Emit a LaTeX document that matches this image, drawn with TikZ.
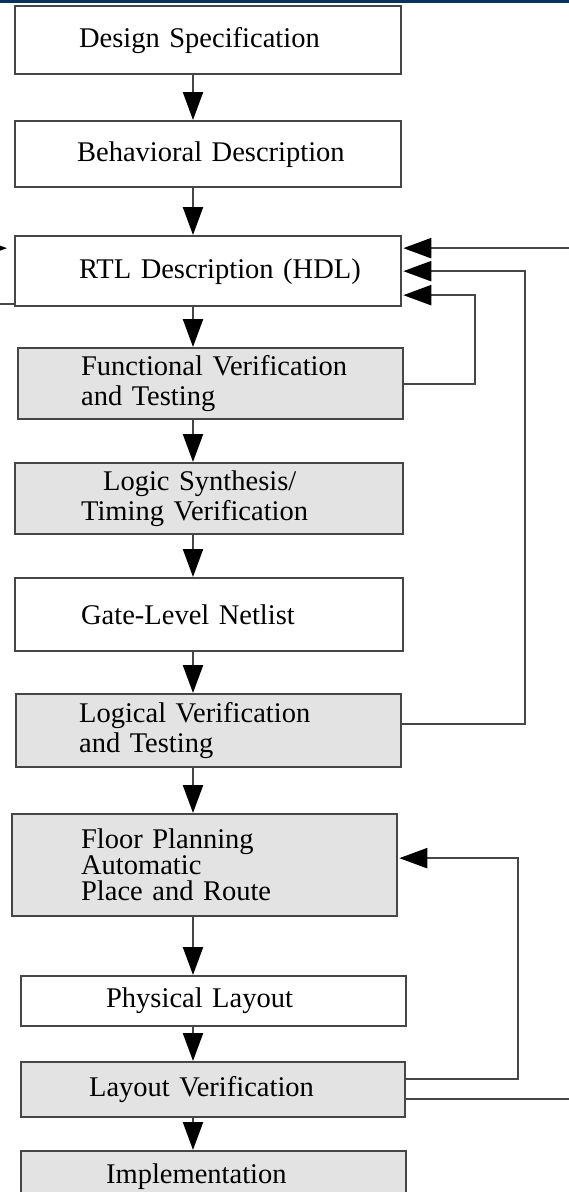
\documentclass[tikz,border=0pt]{standalone}
\usepackage{fontspec}
\setmainfont{Liberation Serif}
\usepackage{xcolor}
\usepackage{tikz}
\usetikzlibrary{arrows.meta, calc}
\definecolor{edgegray}{RGB}{70, 70, 70}
\definecolor{stagegray}{RGB}{227, 227, 227}
\definecolor{topnavy}{RGB}{6, 50, 92}

\begin{document}
\begin{tikzpicture}[x=1pt, y=-1pt,
        stage/.style={draw=edgegray, line width=2.3pt, fill=white, anchor=north west, inner xsep=0pt, inner ysep=0pt, align=left, font=\fontsize{28.5}{30}\selectfont},
        stageshaded/.style={stage, fill=stagegray},
        indent/.style={execute at begin node={\leftskip=#1\relax}},
        flow/.style={edgegray, line width=2.3pt, -{Triangle[length=28pt, width=20pt, color=black]}},
        feedback/.style={flow, shorten >=1pt},
        wire/.style={edgegray, line width=2.3pt}]
        \useasboundingbox (0,0) rectangle (569,1192);
        \clip (0,0) rectangle (569,1192);
        \fill[topnavy] (0,0) rectangle (569,2.5);

        % Flow stages
        \node[stage, text width=386pt, minimum height=68pt, indent=64pt] (spec) at (14,5) {Design Specification};
        \node[stage, text width=386pt, minimum height=66pt, indent=62pt] (behave) at (14,120) {Behavioral Description};
        \node[stage, text width=386pt, minimum height=70pt, indent=64pt] (rtl) at (14,235) {RTL Description (HDL)};
        \node[stageshaded, text width=385pt, minimum height=71pt, indent=63pt] (funcver) at (17,347) {Functional Verification\\and Testing};
        \node[stageshaded, text width=388pt, minimum height=71pt, indent=66pt] (synth) at (14,462) {\hspace*{22pt}Logic Synthesis/\\Timing Verification};
        \node[stage, text width=388pt, minimum height=73pt, indent=66pt] (netlist) at (14,577) {Gate-Level Netlist};
        \node[stageshaded, text width=385pt, minimum height=73pt, indent=63pt] (logicver) at (15,693) {Logical Verification\\and Testing};
        \node[stageshaded, text width=385pt, minimum height=102pt, indent=69pt, font=\fontsize{28.5}{26}\selectfont] (floorplan) at (11,813) {Floor Planning\\Automatic\\Place and Route};
        \node[stage, text width=385pt, minimum height=50pt, indent=85pt] (layout) at (20,975) {Physical Layout};
        \node[stageshaded, text width=384pt, minimum height=55pt, indent=68pt] (layoutver) at (20,1061) {Layout Verification};
        \node[stageshaded, text width=385pt, minimum height=50pt, indent=85pt] (impl) at (20,1150) {Implementation};

        % Helper coordinates
        \coordinate (spine) at (193,0);
        \coordinate (loopfunc) at (475,0);
        \coordinate (looplogic) at (525,0);
        \coordinate (looplayout) at (518,0);
        \coordinate (rightedge) at (575,0);
        \coordinate (leftedge) at (-35,0);
        \coordinate (rtlinA) at ([yshift=23pt]rtl.east);
        \coordinate (rtlinB) at (rtl.east);
        \coordinate (rtlinC) at ([yshift=-24pt]rtl.east);
        \coordinate (rtlleftin) at ([yshift=23pt]rtl.west);
        \coordinate (rtlleftout) at ([yshift=-33pt]rtl.west);
        \coordinate (logicout) at ([yshift=7pt]logicver.east);
        \coordinate (floorin) at ([yshift=7pt]floorplan.east);
        \coordinate (layoutoutA) at ([yshift=11pt]layoutver.east);
        \coordinate (layoutoutB) at ([yshift=-9pt]layoutver.east);

        % Main flow
        \draw[flow] (spec.south -| spine) -- (behave.north -| spine);
        \draw[flow] (behave.south -| spine) -- (rtl.north -| spine);
        \draw[flow] (rtl.south -| spine) -- (funcver.north -| spine);
        \draw[flow] (funcver.south -| spine) -- (synth.north -| spine);
        \draw[flow] (synth.south -| spine) -- (netlist.north -| spine);
        \draw[flow] (netlist.south -| spine) -- (logicver.north -| spine);
        \draw[flow] (logicver.south -| spine) -- (floorplan.north -| spine);
        \draw[flow] (floorplan.south -| spine) -- (layout.north -| spine);
        \draw[flow] (layout.south -| spine) -- (layoutver.north -| spine);
        \draw[flow] (layoutver.south -| spine) -- (impl.north -| spine);

        % Feedback loops
        \draw[feedback] (funcver.east) -| (rtlinC -| loopfunc) -- (rtlinC);
        \draw[feedback] (logicout) -| (rtlinB -| looplogic) -- (rtlinB);
        \draw[feedback] (rtlinA -| rightedge) -- (rtlinA);
        \draw[feedback] (layoutoutA) -| (floorin -| looplayout) -- (floorin);
        \draw[wire] (layoutoutB) -- (layoutoutB -| rightedge);
        \draw[flow, shorten >=7pt] (rtlleftin -| leftedge) -- (rtlleftin);
        \draw[wire] (rtlleftout) -- (rtlleftout -| leftedge);
\end{tikzpicture}
\end{document}
